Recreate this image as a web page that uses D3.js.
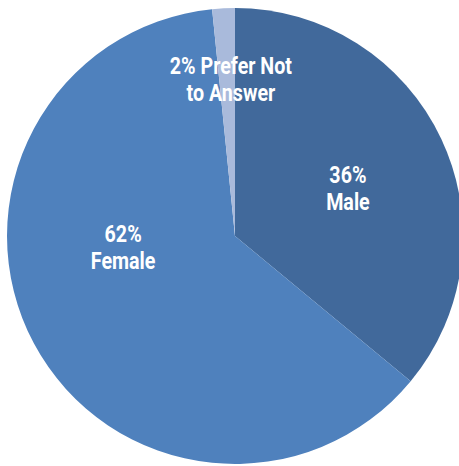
<!DOCTYPE html>
<html><head><meta charset="utf-8">
<script src="https://cdn.jsdelivr.net/npm/d3@7"></script>
<style>html,body{margin:0;padding:0;background:#fff;}svg{display:block;}</style>
</head><body>
<script>
const categories = ["Male", "Female", "Prefer Not to Answer"];
const values = [36, 62.4, 1.6];
const labelLines = [["36%", "Male"], ["62%", "Female"], ["2% Prefer Not", "to Answer"]];
const colors = ["#41699b", "#4f81bd", "#a9badb"];

const W = 459, H = 466, cx = 235, cy = 236, R = 228;
const svg = d3.select("body").append("svg").attr("width", W).attr("height", H);
const g = svg.append("g").attr("transform", `translate(${cx},${cy})`);

const pie = d3.pie().sort(null).value(d => d)(values);
const arc = d3.arc().innerRadius(0).outerRadius(R);
g.selectAll("path").data(pie).join("path")
  .attr("d", arc).attr("fill", (d, i) => colors[i]);

// label positions: polar (radius fraction, angle in degrees clockwise from north)
const labelPolar = [[0.538, 67], [0.493, 264.4], [0.689, 358.5]];
const fs = 24, lh = 27;
labelLines.forEach((lines, i) => {
  const [rf, deg] = labelPolar[i];
  const a = deg * Math.PI / 180;
  const x = Math.sin(a) * R * rf, y = -Math.cos(a) * R * rf;
  const t = g.append("text").attr("text-anchor", "middle")
    .attr("transform", `translate(${x},${y}) scale(0.82,1)`)
    .attr("font-family", "Roboto, 'DejaVu Sans', sans-serif")
    .attr("font-weight", "bold").attr("font-size", fs).attr("fill", "#fff");
  lines.forEach((ln, j) => {
    t.append("tspan").attr("x", 0).attr("y", (j - (lines.length - 1) / 2) * lh + fs * 0.36).text(ln);
  });
});
</script>
</body></html>
